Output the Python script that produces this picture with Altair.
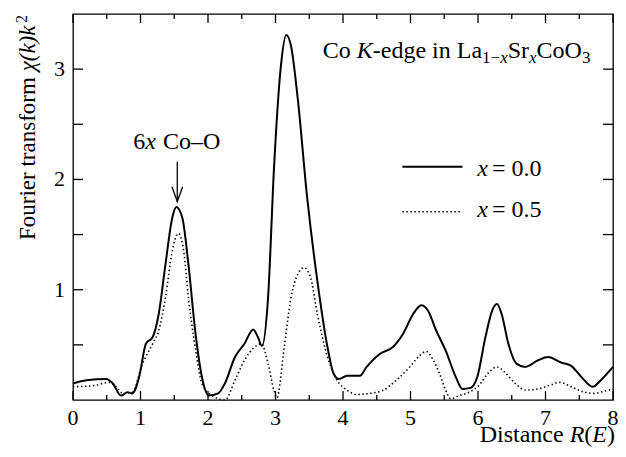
import altair as alt
import pandas as pd

# ---------------- data ----------------
solid_x = [0.0, 0.2, 0.49, 0.59, 0.71, 0.81, 0.88, 0.98, 1.08, 1.18, 1.27, 1.37, 1.47, 1.53,
           1.62, 1.71, 1.81, 1.91, 2.01, 2.15, 2.25, 2.40, 2.54, 2.67, 2.74, 2.80, 2.89, 2.98,
           3.08, 3.16, 3.23, 3.33, 3.47, 3.62, 3.77, 3.86, 3.94, 4.06, 4.25, 4.35, 4.55, 4.74,
           4.89, 5.04, 5.16, 5.26, 5.38, 5.52, 5.67, 5.77, 5.89, 5.99, 6.11, 6.21, 6.28, 6.35,
           6.45, 6.57, 6.70, 6.89, 7.04, 7.23, 7.38, 7.53, 7.70, 7.82, 8.0]
solid_y = [0.15, 0.18, 0.19, 0.15, 0.04, 0.07, 0.06, 0.21, 0.51, 0.57, 0.78, 1.23, 1.65, 1.75,
           1.65, 1.23, 0.63, 0.21, 0.04, 0.06, 0.15, 0.39, 0.51, 0.64, 0.57, 0.49, 0.93, 2.13,
           3.03, 3.31, 3.21, 2.73, 1.83, 1.08, 0.48, 0.24, 0.19, 0.22, 0.22, 0.30, 0.42, 0.48,
           0.60, 0.78, 0.86, 0.81, 0.63, 0.45, 0.21, 0.10, 0.11, 0.21, 0.57, 0.81, 0.87, 0.78,
           0.51, 0.33, 0.30, 0.36, 0.39, 0.34, 0.31, 0.21, 0.12, 0.18, 0.30]

dot_x = [0.0, 0.30, 0.54, 0.64, 0.74, 0.88, 1.03, 1.18, 1.27, 1.37, 1.47, 1.56, 1.64, 1.71,
         1.81, 1.91, 2.06, 2.25, 2.40, 2.54, 2.69, 2.79, 2.89, 2.98, 3.02, 3.13, 3.23, 3.33,
         3.42, 3.52, 3.62, 3.77, 3.91, 4.06, 4.20, 4.40, 4.60, 4.79, 4.99, 5.13, 5.23, 5.33,
         5.43, 5.52, 5.60, 5.72, 5.87, 6.01, 6.16, 6.28, 6.40, 6.55, 6.70, 6.89, 7.09, 7.21,
         7.38, 7.53, 7.72, 7.87, 8.0]
dot_y = [0.12, 0.13, 0.16, 0.12, 0.06, 0.07, 0.33, 0.51, 0.63, 0.93, 1.35, 1.51, 1.35, 0.93,
         0.48, 0.15, 0.04, 0.0, 0.18, 0.36, 0.48, 0.51, 0.33, 0.08, 0.02, 0.48, 0.93, 1.14,
         1.20, 1.11, 0.78, 0.39, 0.18, 0.09, 0.05, 0.06, 0.09, 0.18, 0.30, 0.40, 0.44, 0.37,
         0.24, 0.09, 0.01, 0.04, 0.07, 0.13, 0.25, 0.30, 0.25, 0.15, 0.09, 0.10, 0.14, 0.16,
         0.12, 0.08, 0.06, 0.08, 0.10]

series_labels = ["x = 0.0", "x = 0.5"]
x_major = [0, 1, 2, 3, 4, 5, 6, 7, 8]
x_minor = [0.5, 1.5, 2.5, 3.5, 4.5, 5.5, 6.5, 7.5]
y_ticks = [0.5, 1, 1.5, 2, 2.5, 3]
y_labels = [1, 2, 3]

# ---------------- layout / style ----------------
W, H = 540, 386
FONT = "Liberation Serif"
FS = 24      # annotation font size
SUB = 17     # subscript font size
LAB = 22     # tick label font size

xs = alt.Scale(domain=[0, 8], nice=False, zero=False)
ys = alt.Scale(domain=[0, 3.5], nice=False, zero=False)

def X(field="r"):
    return alt.X(f"{field}:Q", scale=xs, axis=None)

def Y(field="v"):
    return alt.Y(f"{field}:Q", scale=ys, axis=None)

df_solid = pd.DataFrame({"r": solid_x, "v": solid_y})
df_dot = pd.DataFrame({"r": dot_x, "v": dot_y})

solid = alt.Chart(df_solid).mark_line(color="black", strokeWidth=2, interpolate="monotone").encode(
    x=X(), y=Y())
dotted = alt.Chart(df_dot).mark_line(color="black", strokeWidth=1.6, strokeDash=[1.4, 2.6],
                                     interpolate="monotone").encode(x=X(), y=Y())

# inward ticks on all four sides
df_xmaj = pd.DataFrame({"r": x_major})
df_xmin = pd.DataFrame({"r": x_minor})
df_yt = pd.DataFrame({"v": y_ticks})
tick_style = dict(color="black", strokeWidth=1.3)
ticks = [
    alt.Chart(df_xmaj).mark_rule(**tick_style).encode(x=X(), y=alt.value(H), y2=alt.value(H - 9)),
    alt.Chart(df_xmaj).mark_rule(**tick_style).encode(x=X(), y=alt.value(0), y2=alt.value(9)),
    alt.Chart(df_xmin).mark_rule(**tick_style).encode(x=X(), y=alt.value(H), y2=alt.value(H - 5)),
    alt.Chart(df_xmin).mark_rule(**tick_style).encode(x=X(), y=alt.value(0), y2=alt.value(5)),
    alt.Chart(df_yt).mark_rule(**tick_style).encode(y=Y(), x=alt.value(0), x2=alt.value(10)),
    alt.Chart(df_yt).mark_rule(**tick_style).encode(y=Y(), x=alt.value(W), x2=alt.value(W - 10)),
]

# tick labels (serif), through the scales
df_xl = pd.DataFrame({"r": x_major, "t": [str(v) for v in x_major]})
df_yl = pd.DataFrame({"v": y_labels, "t": [str(v) for v in y_labels]})
tick_labels = [
    alt.Chart(df_xl).mark_text(font=FONT, fontSize=LAB, align="center", baseline="alphabetic",
                               color="black").encode(x=X(), y=alt.value(H + 25), text="t:N"),
    alt.Chart(df_yl).mark_text(font=FONT, fontSize=LAB, align="right", baseline="middle",
                               color="black").encode(y=Y(), x=alt.value(-8), text="t:N"),
]

# glyph advance widths (em) for laying out mixed-style text pieces
WID = {"C": .667, "o": .5, " ": .25, "K": .667, "-": .333, "e": .444, "d": .5,
       "g": .5, "i": .278, "n": .5, "L": .611, "a": .444, "1": .5, "\u2212": .564, "x": .444,
       "S": .556, "r": .333, "O": .722, "3": .5, "6": .5, "\u2013": .5, "=": .564,
       "0": .5, ".": .25, "5": .5, "D": .722, "s": .389, "t": .278, "c": .444, "R": .611,
       "(": .333, ")": .333, "E": .611, "F": .556, "u": .5, "f": .333, "m": .778,
       "\u03c7": .55, "k": .444, "2": .5}

def width(text, size):
    return sum(WID.get(c, 0.5) for c in text) * size

def rich(pieces, ax, ay):
    """Pieces laid left to right from a data anchor; (None, px) is a plain gap."""
    layers = []
    off = 0.0
    for p in pieces:
        if p[0] is None:
            off += p[1]
            continue
        text, size, italic, shift = p
        d = pd.DataFrame({"r": [ax], "v": [ay], "t": [text]})
        layers.append(alt.Chart(d).mark_text(
            font=FONT, fontSize=size, fontStyle="italic" if italic else "normal",
            align="left", baseline="alphabetic", dx=off, dy=shift, color="black"
        ).encode(x=X(), y=Y(), text="t:N"))
        off += width(text, size)
    return layers

def rich_px(pieces, px, py, angle=0):
    """Axis-title pieces at pixel positions; for angle 270 the run goes upward."""
    layers = []
    off = 0.0
    for text, size, italic, shift in pieces:
        d = pd.DataFrame({"t": [text]})
        if angle == 0:
            x, y = px + off, py + shift
        else:
            x, y = px + shift, py - off
        layers.append(alt.Chart(d).mark_text(
            font=FONT, fontSize=size, fontStyle="italic" if italic else "normal",
            align="left", baseline="alphabetic", angle=angle, color="black"
        ).encode(x=alt.value(x), y=alt.value(y), text="t:N"))
        off += width(text, size)
    return layers

# axis titles
x_title_pieces = [("Distance ", FS, False, 0), ("R", FS, True, 0), ("(", FS, False, 0),
                  ("E", FS, True, 0), (")", FS, False, 0)]
x_title_w = sum(width(t, s) for t, s, _, _ in x_title_pieces)
x_title = rich_px(x_title_pieces, W - x_title_w + 2, H + 42)

YT = 23
y_title = rich_px([("Fourier transform ", YT, False, 0), ("\u03c7(k)k", YT, True, 0),
                   ("2", 16, False, -8)], -38, 226, angle=270)

# annotations
title_txt = rich([("Co", FS, False, 0), (None, 6), ("K", FS, True, 0),
                  ("-edge in La", FS, False, 0),
                  ("1\u2212", SUB, False, 5), ("x", SUB, True, 5), ("Sr", FS, False, 0),
                  ("x", SUB, True, 5), ("CoO", FS, False, 0), ("3", SUB, False, 5)],
                 3.70, 3.10)
peak_txt = rich([("6", FS, False, 0), ("x", FS, True, 0), (None, 7), ("Co\u2013O", FS, False, 0)],
                0.893, 2.28)
leg1 = rich([("x", FS, True, 0), (None, 4), ("= 0.0", FS, False, 0)], 5.99, 2.03)
leg2 = rich([("x", FS, True, 0), (None, 4), ("= 0.5", FS, False, 0)], 5.99, 1.66)

# legend line samples
df_l1 = pd.DataFrame({"r": [4.88], "r2": [5.77], "v": [2.115]})
df_l2 = pd.DataFrame({"r": [4.88], "r2": [5.73], "v": [1.707]})
leg_lines = [
    alt.Chart(df_l1).mark_rule(color="black", strokeWidth=2).encode(x=X(), x2="r2:Q", y=Y()),
    alt.Chart(df_l2).mark_rule(color="black", strokeWidth=1.6, strokeDash=[1.4, 2.6]).encode(
        x=X(), x2="r2:Q", y=Y()),
]

# arrow pointing to the Co-O peak
df_arrow = pd.DataFrame({
    "r": [1.545, 1.545, 1.466, 1.545, 1.624],
    "v": [2.16, 1.80, 1.934, 1.80, 1.934],
    "seg": [0, 0, 1, 1, 1],
    "o": [0, 1, 0, 1, 2],
})
arrow = alt.Chart(df_arrow).mark_line(color="black", strokeWidth=1.3).encode(
    x=X(), y=Y(), detail="seg:N", order="o:Q")

chart = alt.layer(
    solid, dotted, *ticks, *tick_labels, *x_title, *y_title,
    *title_txt, *peak_txt, *leg1, *leg2, *leg_lines, arrow
).properties(
    width=W, height=H,
    background="white",
    autosize=alt.AutoSizeParams(type="none"),
    padding={"left": 65, "top": 6, "right": 5, "bottom": 49},
).configure_view(
    stroke="black", strokeWidth=1.3
)

chart.save("out.html", embed_options={"renderer": "svg", "actions": False})
